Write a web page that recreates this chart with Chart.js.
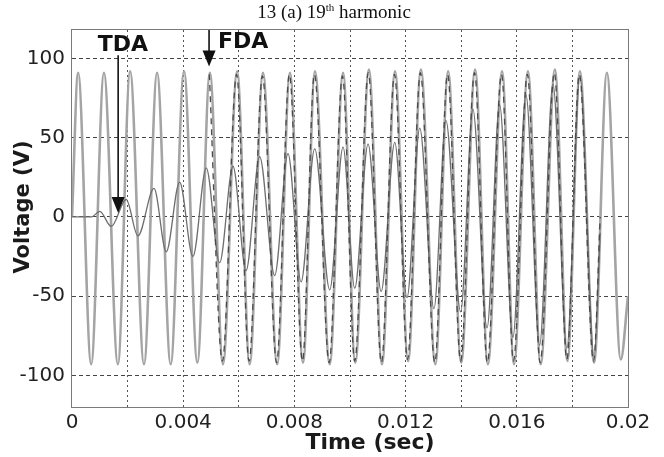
<!DOCTYPE html>
<html>
<head>
<meta charset="utf-8">
<script src="https://cdn.jsdelivr.net/npm/chart.js@4"></script>
<style>
  body { margin: 0; background: #fff; }
  #wrap { position: relative; width: 664px; height: 457px; }
  #title { position: absolute; top: 1px; left: 334px; transform: translateX(-50%);
           font: 19px "Liberation Serif", "Times New Roman", serif; color: #111; white-space: nowrap; line-height: 22px; }
  #title sup { font-size: 11px; line-height: 0; }
</style>
</head>
<body>
<div id="wrap">
  <div id="title">13 (a) 19<sup>th</sup> harmonic</div>
  <canvas id="c" width="664" height="457"></canvas>
</div>
<script>
// === Data (time in s, voltage in V) ===
// actual signal: peaks / troughs
const sigT = [0, 0.00022, 0.00069, 0.00115, 0.00165, 0.00209, 0.00259, 0.00306, 0.00355, 0.00403, 0.00451,
  0.00496, 0.00543, 0.00594, 0.00639, 0.00687, 0.00738, 0.00784, 0.00831, 0.00874, 0.00927,
  0.00975, 0.01019, 0.01068, 0.01115, 0.01162, 0.01209, 0.01255, 0.01307, 0.01353, 0.01400,
  0.01450, 0.01496, 0.01547, 0.01590, 0.01640, 0.01686, 0.01737, 0.01782, 0.01827, 0.01878,
  0.01924, 0.01974, 0.02];
const sigV = [0, 91, -93, 91, -93, 92, -93, 91, -93, 92, -92,
  91, -93, 92, -93, 91, -93, 91, -92, 92, -93,
  91, -92, 93, -93, 92, -91, 93, -93, 92, -92,
  93, -93, 92, -93, 92, -93, 93, -91, 92, -92,
  91, -90, -50];

// TDA output: slowly growing oscillation
const tdaT = [0, 0.00070, 0.00100, 0.00141, 0.00195, 0.00237, 0.00295, 0.00339, 0.00387, 0.00435, 0.00483,
  0.00531, 0.00579, 0.00626, 0.00675, 0.00729, 0.00777, 0.00824, 0.00873, 0.00927, 0.00975,
  0.01017, 0.01065, 0.01112, 0.01161, 0.01205, 0.01251, 0.01302, 0.01345, 0.01398, 0.01442,
  0.01493, 0.01538, 0.01586, 0.01633, 0.01682, 0.01730, 0.01780, 0.01827, 0.01878, 0.01900];
const tdaV = [0, 0, 3.5, -6, 11, -12, 18, -22, 22, -25, 31,
  -29, 32, -34, 38, -37, 40, -41, 43, -46, 44,
  -45, 46, -47, 47, -51, 56, -58, 61, -60, 68,
  -70, 71, -76, 77, -81, 84, -83, 88, -88, -10];

// FDA output: dashed, locks on from about 0.005 s
const fdaT = [0.00494, 0.00541, 0.00592, 0.00637, 0.00685, 0.00736, 0.00782, 0.00829, 0.00872, 0.00925,
  0.00973, 0.01017, 0.01066, 0.01113, 0.01160, 0.01207, 0.01253, 0.01305, 0.01351, 0.01398,
  0.01448, 0.01494, 0.01545, 0.01588, 0.01638, 0.01684, 0.01735, 0.01780, 0.01825, 0.01876, 0.01900];
const fdaV = [90, -91, 90, -91, 89, -92, 90, -91, 90, -92,
  89, -91, 91, -92, 90, -90, 91, -92, 90, -91,
  91, -92, 90, -91, 90, -92, 91, -90, 90, -91, 0];

// axes
const xGridValues = [0, 0.002, 0.004, 0.006, 0.008, 0.01, 0.012, 0.014, 0.016, 0.018, 0.02];
const xLabelValues = [0, 0.004, 0.008, 0.012, 0.016, 0.02];
const xTickLabels = ['0', '0.004', '0.008', '0.012', '0.016', '0.02'];
const yTickValues = [-100, -50, 0, 50, 100];
const yTickLabels = ['-100', '-50', '0', '50', '100'];

// arrow annotations (data coords)
const tdaArrow = {t: 0.00166, from: 102, to: 2.5};
const fdaArrow = {t: 0.00493, from: 118, to: 95};

const pts = (ts, vs) => ts.map((t, i) => ({x: t, y: vs[i]}));

function drawArrow(ctx, px, y0, y1){
  ctx.beginPath();
  ctx.moveTo(px, y0); ctx.lineTo(px, y1 - 12);
  ctx.stroke();
  ctx.beginPath();
  ctx.moveTo(px - 6.5, y1 - 16); ctx.lineTo(px + 6.5, y1 - 16); ctx.lineTo(px, y1);
  ctx.closePath(); ctx.fill();
}

const annotate = {
  id: 'annotate',
  afterDraw(chart){
    const {ctx, chartArea: a, scales: {x, y}} = chart;
    ctx.save();
    ctx.strokeStyle = '#7a7a7a'; ctx.lineWidth = 1;
    ctx.strokeRect(a.left - 0.5, a.top - 0.5, a.right - a.left + 1, a.bottom - a.top + 1);

    ctx.strokeStyle = '#111'; ctx.fillStyle = '#111'; ctx.lineWidth = 1.6;
    drawArrow(ctx, x.getPixelForValue(tdaArrow.t), y.getPixelForValue(tdaArrow.from), y.getPixelForValue(tdaArrow.to));
    drawArrow(ctx, x.getPixelForValue(fdaArrow.t), y.getPixelForValue(fdaArrow.from), y.getPixelForValue(fdaArrow.to));

    ctx.font = 'bold 22px "DejaVu Sans"';
    ctx.textBaseline = 'middle';
    ctx.textAlign = 'center';
    ctx.fillText('TDA', 123, 45);
    ctx.textAlign = 'left';
    ctx.fillText('FDA', 218, 42);

    // axis titles
    ctx.fillStyle = '#1a1a1a';
    ctx.textAlign = 'center';
    ctx.font = 'bold 22px "DejaVu Sans"';
    ctx.fillText('Time (sec)', 370, 443);
    ctx.translate(24, 207);
    ctx.rotate(-Math.PI / 2);
    ctx.font = 'bold 21px "DejaVu Sans"';
    ctx.fillText('Voltage (V)', 0, 0);
    ctx.restore();
  }
};

Chart.defaults.font.family = '"DejaVu Sans", sans-serif';

new Chart(document.getElementById('c'), {
  type: 'line',
  data: {
    datasets: [
      {label: 'Signal', data: pts(sigT, sigV), borderColor: '#a4a4a4', borderWidth: 2.6, order: 3},
      {label: 'TDA', data: pts(tdaT, tdaV), borderColor: '#6e6e6e', borderWidth: 1.3, order: 2},
      {label: 'FDA', data: pts(fdaT, fdaV), borderColor: '#4a4a4a', borderWidth: 1.3, borderDash: [6, 5], order: 1}
    ]
  },
  options: {
    responsive: false,
    animation: false,
    events: [],
    layout: {padding: {left: 0, right: 36, top: 30, bottom: 0}},
    elements: {
      point: {radius: 0},
      line: {cubicInterpolationMode: 'monotone', fill: false}
    },
    plugins: {legend: {display: false}, tooltip: {enabled: false}, title: {display: false}},
    scales: {
      x: {
        type: 'linear', min: 0, max: 0.02,
        afterFit: s => { s.height = 50; },
        afterBuildTicks: s => { s.ticks = xGridValues.map(v => ({value: v})); },
        ticks: {
          padding: 4, maxRotation: 0, autoSkip: false, color: '#222', font: {size: 20},
          callback: v => {
            const i = xLabelValues.findIndex(l => Math.abs(l - v) < 1e-9);
            return i >= 0 ? xTickLabels[i] : '';
          }
        },
        grid: {
          drawTicks: false, lineWidth: 1,
          color: c => (c.tick && c.tick.value > 0 && c.tick.value < 0.02) ? '#555' : 'rgba(0,0,0,0)'
        },
        border: {display: false, dash: [2, 3]}
      },
      y: {
        type: 'linear', min: -120, max: 118,
        afterFit: s => { s.width = 72; },
        afterBuildTicks: s => { s.ticks = yTickValues.map(v => ({value: v})); },
        ticks: {
          padding: 7, color: '#222', font: {size: 20},
          callback: v => yTickLabels[yTickValues.indexOf(v)]
        },
        grid: {drawTicks: false, lineWidth: 1, color: '#444'},
        border: {display: false, dash: [4, 3]}
      }
    }
  },
  plugins: [annotate]
});
</script>
</body>
</html>
